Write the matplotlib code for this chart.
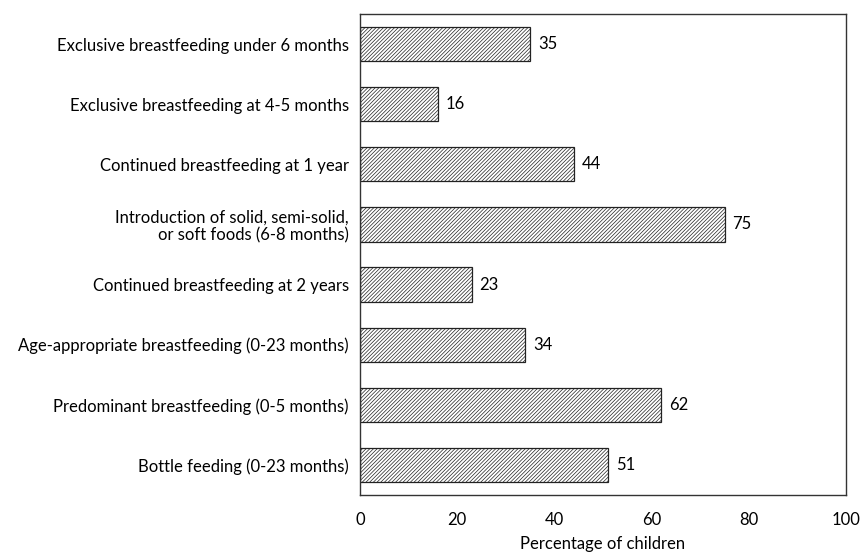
import matplotlib
matplotlib.use('Agg')
import matplotlib.pyplot as plt

plt.rcParams['font.family'] = ['Lato', 'DejaVu Sans']
plt.rcParams['hatch.linewidth'] = 0.5

categories = ['Exclusive breastfeeding under 6 months',
              'Exclusive breastfeeding at 4-5 months',
              'Continued breastfeeding at 1 year',
              'Introduction of solid, semi-solid,\nor soft foods (6-8 months)',
              'Continued breastfeeding at 2 years',
              'Age-appropriate breastfeeding (0-23 months)',
              'Predominant breastfeeding (0-5 months)',
              'Bottle feeding (0-23 months)']
values = [35, 16, 44, 75, 23, 34, 62, 51]
xticks = [0, 20, 40, 60, 80, 100]

fig = plt.figure(figsize=(8.64, 5.52), dpi=100)
ax = fig.add_axes([0.4167, 0.1033, 0.5625, 0.8713])

ypos = list(range(len(categories)))[::-1]
ax.barh(ypos, values, height=0.57, color='white', edgecolor='#222222',
        hatch='/////////', lw=0.9)
for y, v in zip(ypos, values):
    ax.text(v + 1.6, y, '{}'.format(v), va='center', ha='left', fontsize=12)

ax.set_xlim(0, 100)
ax.set_ylim(-0.5, len(categories) - 0.5)
ax.set_yticks(ypos)
ax.set_yticklabels(categories, fontsize=12, linespacing=1.1)
ax.set_xticks(xticks)
ax.set_xticklabels([str(t) for t in xticks], fontsize=12)
ax.tick_params(length=0, pad=8)
ax.tick_params(axis='x', pad=12)
ax.set_xlabel('Percentage of children', fontsize=12, labelpad=6)
for s in ax.spines.values():
    s.set_linewidth(1.0)
    s.set_color('#333333')

plt.savefig('out.png', dpi=100)
